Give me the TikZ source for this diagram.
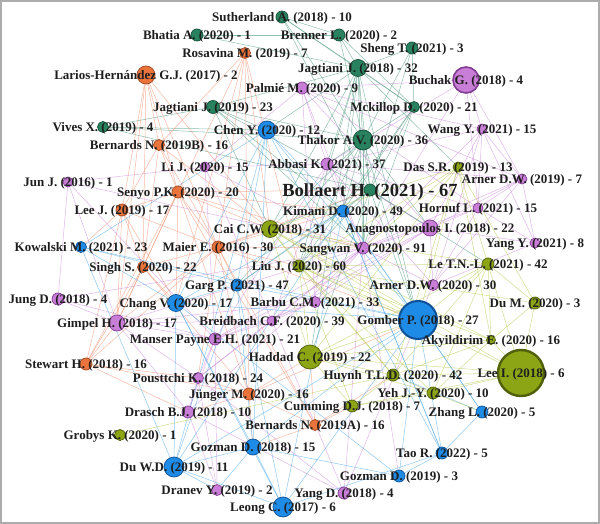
\documentclass[tikz,border=0pt]{standalone}
\usepackage{fontspec}
\setmainfont{Liberation Serif}
\pgfdeclarelayer{back}\pgfdeclarelayer{bg}\pgfdeclarelayer{fg}
\pgfsetlayers{back,bg,main,fg}
\definecolor{cG}{RGB}{40,130,95}\definecolor{cGd}{RGB}{20,80,55}
\definecolor{cO}{RGB}{235,115,60}\definecolor{cOd}{RGB}{160,70,30}
\definecolor{cP}{RGB}{200,125,215}\definecolor{cPd}{RGB}{130,60,145}
\definecolor{cB}{RGB}{30,140,230}\definecolor{cBd}{RGB}{15,80,150}
\definecolor{cY}{RGB}{140,165,20}\definecolor{cYd}{RGB}{80,95,10}
\definecolor{eG}{RGB}{70,150,120}\definecolor{eO}{RGB}{240,140,105}
\definecolor{eP}{RGB}{205,135,220}\definecolor{eB}{RGB}{70,165,230}
\definecolor{eY}{RGB}{180,200,70}\definecolor{txt}{RGB}{30,30,30}
\tikzset{
 dot/.style={circle,inner sep=0pt,line width=0.7pt},
 nG/.style={dot,fill=cG,draw=cGd},
 nO/.style={dot,fill=cO,draw=cOd},
 nP/.style={dot,fill=cP,draw=cPd},
 nB/.style={dot,fill=cB,draw=cBd},
 nY/.style={dot,fill=cY,draw=cYd},
 nPb/.style={nP,line width=1.6pt},
 nBb/.style={nB,line width=2pt},
 nYb/.style={nY,line width=2.4pt},
 lab/.style={inner sep=0pt,text=txt,font=\bfseries\fontsize{13}{13}\selectfont,yshift=-1.5pt},
 bigl/.style={lab,font=\bfseries\fontsize{18.5}{18.5}\selectfont,yshift=-1pt},
 ed/.style={line width=0.5pt,opacity=0.6}
}
\newcommand\vn[6]{%
 \node[#4,minimum size=#5pt] (#1) at (#2,#3) {};
 \begin{pgfonlayer}{fg}\node[lab] (#1t) at (#1.center) {#6};\end{pgfonlayer}}
\begin{document}
\begin{tikzpicture}[x=1pt,y=-1pt]
\useasboundingbox (0,0) rectangle (600,524);
\begin{pgfonlayer}{back}
\fill[white] (0,0) rectangle (600,524);
\end{pgfonlayer}
\begin{pgfonlayer}{fg}
\draw[gray!65,line width=1.5pt] (1,1) rectangle (599,523);
\end{pgfonlayer}
\vn{suth}{282}{17}{nG}{12}{Sutherland A. (2018) - 10}
\vn{bhat}{197}{35}{nG}{12}{Bhatia A. (2020) - 1}
\vn{bren}{339}{35}{nG}{12}{Brenner L. (2020) - 2}
\vn{rosa}{245}{53}{nO}{11}{Rosavina M. (2019) - 7}
\vn{sheng}{412}{48}{nG}{12}{Sheng T. (2021) - 3}
\vn{lario}{146}{75}{nO}{18}{Larios-Hernández G.J. (2017) - 2}
\vn{jag18}{358}{68}{nG}{17}{Jagtiani J. (2018) - 32}
\vn{buch}{466}{80}{nPb}{26}{Buchak G. (2018) - 4}
\vn{palm}{302}{88}{nP}{12}{Palmié M. (2020) - 9}
\vn{jag19}{213}{107}{nG}{13}{Jagtiani J. (2019) - 23}
\vn{mck}{414}{107}{nG}{11}{Mckillop D. (2020) - 21}
\vn{vives}{103}{127}{nG}{11}{Vives X. (2019) - 4}
\vn{chen}{267}{130}{nB}{18}{Chen Y. (2020) - 12}
\vn{thak}{363}{140}{nG}{20}{Thakor A.V. (2020) - 36}
\vn{wang}{482}{129}{nP}{10}{Wang Y. (2021) - 15}
\vn{bernb}{159}{145}{nO}{11}{Bernards N. (2019B) - 16}
\vn{das}{458}{167}{nY}{10}{Das S.R. (2019) - 13}
\vn{lij}{205}{167}{nP}{10}{Li J. (2020) - 15}
\vn{abb}{327}{164}{nP}{12}{Abbasi K. (2021) - 37}
\vn{arnA}{522}{179}{nP}{10}{Arner D.W. (2019) - 7}
\vn{jun}{68}{182}{nP}{10}{Jun J. (2016) - 1}
\vn{senyo}{178}{192}{nO}{12}{Senyo P.K. (2020) - 20}
\node[nG,minimum size=12pt] (boll) at (370,190) {};
\begin{pgfonlayer}{fg}\node[bigl] (bollt) at (boll.center) {Bollaert H. (2021) - 67};\end{pgfonlayer}
\vn{leej}{122}{210}{nO}{12}{Lee J. (2019) - 17}
\vn{kim}{343}{211}{nB}{12}{Kimani D. (2020) - 49}
\vn{horn}{478}{208}{nP}{10}{Hornuf L. (2021) - 15}
\vn{cai}{270}{229}{nY}{17}{Cai C.W. (2018) - 31}
\vn{anag}{430}{228}{nP}{16}{Anagnostopoulos I. (2018) - 22}
\vn{kow}{81}{247}{nB}{11}{Kowalski M. (2021) - 23}
\vn{maier}{218}{247}{nO}{12}{Maier E. (2016) - 30}
\vn{sang}{363}{248}{nP}{12}{Sangwan V. (2020) - 91}
\vn{yangy}{535}{243}{nP}{10}{Yang Y. (2021) - 8}
\vn{singh}{143}{267}{nO}{11}{Singh S. (2020) - 22}
\vn{liu}{299}{266}{nY}{12}{Liu J. (2020) - 60}
\vn{letn}{488}{264}{nY}{12}{Le T.N.-L. (2021) - 42}
\vn{garg}{237}{285}{nB}{12}{Garg P. (2021) - 47}
\vn{arnB}{433}{285}{nP}{11}{Arner D.W. (2020) - 30}
\vn{jung}{58}{299}{nP}{12}{Jung D. (2018) - 4}
\vn{chang}{176}{303}{nB}{17}{Chang V. (2020) - 17}
\vn{barbu}{315}{302}{nP}{11}{Barbu C.M. (2021) - 33}
\vn{dum}{535}{303}{nY}{12}{Du M. (2020) - 3}
\vn{gimp}{117}{323}{nP}{16}{Gimpel H. (2018) - 17}
\vn{breid}{272}{321}{nP}{10}{Breidbach C.F. (2020) - 39}
\vn{gomb}{418}{320}{nBb}{38}{Gomber P. (2018) - 27}
\vn{mans}{215}{339}{nP}{12}{Manser Payne E.H. (2021) - 21}
\vn{aky}{491}{340}{nY}{9}{Akyildirim E. (2020) - 16}
\vn{hadd}{310}{357}{nY}{24}{Haddad C. (2019) - 22}
\vn{stew}{86}{364}{nO}{12}{Stewart H. (2018) - 16}
\vn{huynh}{393}{375}{nY}{12}{Huynh T.L.D. (2020) - 42}
\vn{leei}{521}{373}{nYb}{46}{Lee I. (2018) - 6}
\vn{pous}{198}{378}{nP}{11}{Pousttchi K. (2018) - 24}
\vn{yeh}{433}{393}{nY}{12}{Yeh J.-Y. (2020) - 10}
\vn{jueng}{249}{394}{nO}{12}{Jünger M. (2020) - 16}
\vn{zhang}{482}{412}{nB}{12}{Zhang L. (2020) - 5}
\vn{drasch}{188}{412}{nP}{12}{Drasch B.J. (2018) - 10}
\vn{cumm}{352}{406}{nY}{12}{Cumming D.J. (2018) - 7}
\vn{berna}{315}{425}{nO}{11}{Bernards N. (2019A) - 16}
\vn{grob}{120}{435}{nY}{11}{Grobys K. (2020) - 1}
\vn{gozA}{253}{447}{nB}{16}{Gozman D. (2018) - 15}
\vn{tao}{442}{453}{nB}{12}{Tao R. (2022) - 5}
\vn{duwd}{174}{467}{nB}{20}{Du W.D. (2019) - 11}
\vn{gozB}{399}{476}{nB}{12}{Gozman D. (2019) - 3}
\vn{dran}{217}{490}{nP}{11}{Dranev Y. (2019) - 2}
\vn{yangd}{344}{493}{nP}{12}{Yang D. (2018) - 4}
\vn{leong}{283}{507}{nB}{20}{Leong C. (2017) - 6}
\begin{pgfonlayer}{bg}
\foreach \a/\b in {suth/bren,suth/jag18,suth/mck,suth/boll,suth/thak,bhat/jag18,bhat/bren,bren/jag18,bren/thak,bren/mck,sheng/jag18,sheng/thak,sheng/boll,sheng/mck,jag18/jag19,jag18/thak,jag18/boll,jag18/chen,jag18/abb,jag18/kim,jag18/cai,jag18/sang,jag18/liu,jag18/gomb,jag18/mck,jag18/das,jag19/chen,jag19/thak,jag19/boll,jag19/cai,jag19/kim,jag19/vives,jag19/sang,vives/thak,vives/chen,vives/boll,thak/boll,thak/kim,thak/abb,thak/cai,thak/sang,thak/gomb,thak/liu,thak/anag,thak/mck,mck/boll,mck/kim,mck/sang,mck/liu,boll/kim,boll/sang,boll/gomb,boll/liu,boll/cai,boll/garg,boll/anag,boll/hadd,boll/letn,thak/garg,jag18/hadd}
  \draw[ed,eG] (\a) -- (\b);
\foreach \a/\b in {lario/senyo,lario/leej,lario/maier,lario/singh,lario/gimp,lario/bernb,lario/cai,rosa/senyo,rosa/maier,rosa/cai,rosa/jueng,rosa/bernb,rosa/liu,rosa/chang,bernb/senyo,bernb/maier,bernb/leej,bernb/singh,bernb/cai,senyo/leej,senyo/maier,senyo/singh,senyo/cai,senyo/boll,senyo/chang,senyo/stew,senyo/jueng,senyo/berna,senyo/gimp,senyo/kim,senyo/sang,leej/maier,leej/singh,leej/stew,leej/chang,leej/gimp,leej/kow,maier/singh,maier/cai,maier/stew,maier/jueng,maier/gimp,maier/garg,maier/liu,maier/boll,maier/pous,maier/berna,maier/sang,maier/gomb,maier/kim,singh/stew,singh/chang,singh/gimp,singh/jueng,stew/gimp,stew/jueng,stew/pous,stew/drasch,jueng/berna,jueng/pous,jueng/drasch,jueng/gozA,jueng/hadd,jueng/gomb,berna/cumm,berna/gozA,berna/huynh,berna/hadd}
  \draw[ed,eO] (\a) -- (\b);
\foreach \a/\b in {buch/wang,buch/arnA,buch/horn,buch/palm,buch/sang,buch/abb,palm/abb,palm/sang,palm/lij,palm/anag,palm/horn,palm/wang,palm/arnA,palm/barbu,wang/abb,wang/horn,wang/arnA,wang/sang,wang/anag,wang/yangy,wang/arnB,lij/abb,lij/sang,lij/jun,lij/breid,lij/mans,abb/sang,abb/anag,abb/horn,abb/arnA,abb/barbu,abb/breid,abb/arnB,abb/mans,jun/gimp,jun/jung,jun/sang,jun/mans,arnA/horn,arnA/anag,arnA/sang,arnA/yangy,arnA/arnB,horn/anag,horn/sang,horn/yangy,horn/arnB,anag/sang,anag/barbu,anag/arnB,anag/yangy,anag/breid,anag/mans,sang/barbu,sang/breid,sang/mans,sang/arnB,sang/pous,sang/gimp,sang/drasch,sang/yangd,sang/gozB,sang/jung,jung/gimp,jung/mans,gimp/mans,gimp/breid,gimp/pous,gimp/drasch,gimp/barbu,breid/barbu,breid/mans,breid/pous,mans/pous,mans/drasch,mans/barbu,pous/drasch,pous/dran,pous/yangd,drasch/dran,drasch/yangd,yangd/arnB,yangd/breid,dran/mans,yangy/arnB}
  \draw[ed,eP] (\a) -- (\b);
\foreach \a/\b in {chen/kim,chen/garg,chen/chang,chen/gomb,chen/kow,chen/gozA,chen/duwd,chen/tao,kim/garg,kim/gomb,kim/chang,kim/zhang,kim/tao,kim/leong,kim/duwd,kow/chang,kow/garg,kow/gomb,kow/duwd,garg/chang,garg/gomb,garg/duwd,garg/gozA,garg/leong,chang/gomb,chang/duwd,chang/gozA,chang/leong,chang/gozB,gomb/zhang,gomb/tao,gomb/gozA,gomb/leong,gomb/duwd,gomb/gozB,gozA/duwd,gozA/leong,gozA/gozB,gozA/dran,duwd/leong,duwd/dran,tao/gozB,tao/zhang,tao/kim,leong/tao,zhang/huynh}
  \draw[ed,eB] (\a) -- (\b);
\foreach \a/\b in {cai/liu,cai/hadd,cai/das,cai/letn,cai/huynh,cai/gomb,cai/aky,cai/leei,das/liu,das/hadd,das/letn,das/aky,das/dum,das/huynh,das/sang,liu/hadd,liu/letn,liu/huynh,liu/aky,liu/leei,liu/cumm,liu/yeh,liu/dum,letn/hadd,letn/aky,letn/dum,letn/huynh,letn/leei,letn/yeh,hadd/huynh,hadd/leei,hadd/aky,hadd/cumm,hadd/yeh,huynh/leei,huynh/cumm,huynh/yeh,huynh/aky,huynh/grob,aky/leei,aky/dum,aky/yeh,dum/leei,yeh/cumm,yeh/zhang,yeh/leei,cumm/leei,hadd/gomb,liu/gomb,cai/sang,das/gomb,letn/gomb}
  \draw[ed,eY] (\a) -- (\b);
\end{pgfonlayer}
\end{tikzpicture}
\end{document}
